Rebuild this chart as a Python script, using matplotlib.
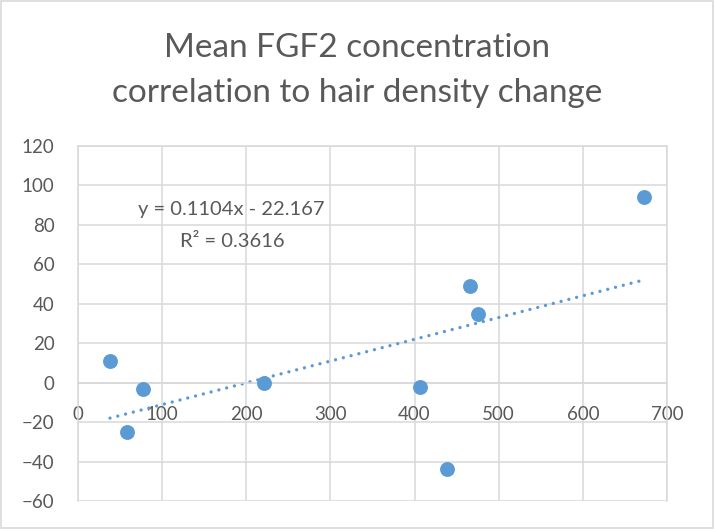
import numpy as np
import matplotlib
matplotlib.use("Agg")
import matplotlib.pyplot as plt
from matplotlib.patches import Rectangle

# Mean FGF2 concentration vs. hair density change
fgf2_conc = [38, 58, 77, 221, 406, 438, 466, 475, 673]
density_change = [11, -25, -3, 0, -2, -44, 49, 35, 94]

# Linear trendline coefficients
slope = 0.1104
intercept = -22.167
r_squared = 0.3616

x_ticks = [0, 100, 200, 300, 400, 500, 600, 700]
y_ticks = [-60, -40, -20, 0, 20, 40, 60, 80, 100, 120]

title_lines = ["Mean FGF2 concentration", "correlation to hair density change"]

FONT = ["Lato", "DejaVu Sans"]
TEXT_GREY = "#595959"
GRID_GREY = "#d9d9d9"
BLUE = "#5b9bd5"

plt.rcParams["font.family"] = FONT

fig = plt.figure(figsize=(7.14, 5.29), dpi=100)
ax = fig.add_axes([78 / 714, 1 - 501 / 529, (667 - 78) / 714, (501 - 146) / 529])

ax.set_xlim(0, 700)
ax.set_ylim(-60, 120)
ax.set_xticks(x_ticks)
ax.set_yticks(y_ticks)
ax.grid(True, color=GRID_GREY, linewidth=1.1)
ax.set_axisbelow(True)

for side in ["left", "right", "top", "bottom"]:
    ax.spines[side].set_color(GRID_GREY)
    ax.spines[side].set_linewidth(1.1)
ax.spines["bottom"].set_position(("data", 0))

ax.tick_params(length=0, labelsize=13.5, labelcolor=TEXT_GREY)
ax.tick_params(axis="x", pad=17)
ax.tick_params(axis="y", pad=17)

# Points
ax.scatter(fgf2_conc, density_change, s=115, color=BLUE, zorder=3, linewidths=0)

# Dotted trendline over the data range
xt = np.array([min(fgf2_conc), max(fgf2_conc)])
ax.plot(xt, slope * xt + intercept, color=BLUE, linewidth=2.4,
        linestyle=(0, (0.01, 2.4)), dash_capstyle="round", zorder=2)

# Equation labels
fig.text(231 / 714, 1 - 210 / 529, f"y = {slope}x - {abs(intercept)}",
         ha="center", va="center", fontsize=14.5, color=TEXT_GREY)
fig.text(232 / 714, 1 - 242 / 529, f"R² = {r_squared}",
         ha="center", va="center", fontsize=14.5, color=TEXT_GREY)

# Title
fig.text(0.5, 1 - 57 / 529, title_lines[0], ha="center", va="baseline",
         fontsize=24, color=TEXT_GREY)
fig.text(0.5, 1 - 102 / 529, title_lines[1], ha="center", va="baseline",
         fontsize=24, color=TEXT_GREY)

# Chart border
fig.patches.append(Rectangle((0.001, 0.001), 0.997, 0.997, transform=fig.transFigure,
                             fill=False, edgecolor=GRID_GREY, linewidth=1.2))

fig.savefig("out.png", dpi=100, facecolor="white")
